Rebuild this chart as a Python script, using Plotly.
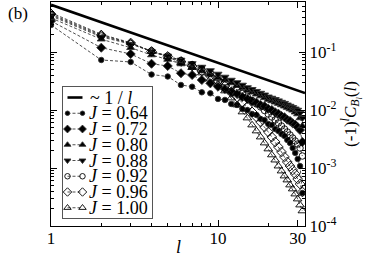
import plotly.graph_objects as go

# ---------------- data ----------------
l_vals = list(range(1, 33))

c_064 = [0.292, 0.0728, 0.0673, 0.0409, 0.0378, 0.0270, 0.0252, 0.0202, 0.0194, 0.0155,
         0.0149, 0.0127, 0.0122, 0.0104, 0.0100, 0.00853, 0.00820, 0.00700, 0.00673, 0.00574,
         0.00551, 0.00470, 0.00435, 0.00385, 0.00356, 0.00304, 0.00270, 0.00221, 0.00182, 0.00143,
         0.00108, 0.000371]
c_072 = [0.342, 0.1186, 0.0925, 0.0627, 0.0574, 0.0430, 0.0401, 0.0329, 0.0288, 0.0252,
         0.0230, 0.0204, 0.0189, 0.0168, 0.0155, 0.0141, 0.0134, 0.0122, 0.0116, 0.0105,
         0.0100, 0.00912, 0.00863, 0.00789, 0.00748, 0.00681, 0.00646, 0.00590, 0.00558, 0.00509,
         0.00452, 0.00281]
c_080 = [0.386, 0.166, 0.1186, 0.0887, 0.0743, 0.0621, 0.0541, 0.0470, 0.0409, 0.0356,
         0.0329, 0.0292, 0.0264, 0.0239, 0.0217, 0.0202, 0.0187, 0.0174, 0.0162, 0.0151,
         0.0143, 0.0136, 0.0129, 0.0122, 0.0116, 0.0110, 0.0104, 0.00989, 0.00916, 0.00853,
         0.00728, 0.00530]
c_088 = [0.418, 0.182, 0.137, 0.102, 0.0853, 0.0728, 0.0634, 0.0551, 0.0480, 0.0418,
         0.0371, 0.0329, 0.0298, 0.0270, 0.0244, 0.0228, 0.0211, 0.0196, 0.0183, 0.0169,
         0.0161, 0.0153, 0.0145, 0.0137, 0.0131, 0.0123, 0.0117, 0.0111, 0.0105, 0.0100,
         0.00887, 0.00728]
c_092 = [0.435, 0.189, 0.140, 0.104, 0.0853, 0.0713, 0.0608, 0.0509, 0.0426, 0.0356,
         0.0304, 0.0259, 0.0221, 0.0192, 0.0168, 0.0146, 0.0127, 0.0113, 0.00980, 0.00853,
         0.00757, 0.00673, 0.00597, 0.00530, 0.00470, 0.00418, 0.00371, 0.00329, 0.00292, 0.00259,
         0.00221, 0.00161]
c_096 = [0.452, 0.196, 0.143, 0.102, 0.0836, 0.0686, 0.0574, 0.0470, 0.0385, 0.0316,
         0.0259, 0.0204, 0.0168, 0.0137, 0.0113, 0.00925, 0.00757, 0.00621, 0.00509, 0.00418,
         0.00342, 0.00281, 0.00230, 0.00189, 0.00155, 0.00127, 0.00108, 0.000925, 0.000789, 0.000646,
         0.000530, 0.000386]
c_100 = [0.476, 0.202, 0.1445, 0.102, 0.0820, 0.0659, 0.0541, 0.0435, 0.0342, 0.0281,
         0.0213, 0.0161, 0.0122, 0.00925, 0.00728, 0.00551, 0.00435, 0.00342, 0.00270, 0.00213,
         0.00168, 0.00137, 0.00108, 0.000887, 0.000728, 0.000621, 0.000509, 0.000435, 0.000356, 0.000292,
         0.000230, 0.000182]

J_labels = ["0.64", "0.72", "0.80", "0.88", "0.92", "0.96", "1.00"]
series = [c_064, c_072, c_080, c_088, c_092, c_096, c_100]

ref_l = [1, 33.2]
ref_c = [0.65, 0.0196]
ref_label = "~ 1 / <i>l</i>"

x_tickvals = [1, 10, 30]
x_ticktext = ["1", "10", "30"]
x_minor = [2, 3, 4, 5, 6, 7, 8, 9, 20]
y_tickvals = [1e-4, 1e-3, 1e-2, 1e-1]
y_ticktext = ["10<sup>-4</sup>", "10<sup>-3</sup>", "10<sup>-2</sup>", "10<sup>-1</sup>"]
y_minor = [m * 10.0 ** e for e in (-4, -3, -2, -1) for m in range(2, 10)]

# ---------------- style ----------------
FONT = "Liberation Serif, Times New Roman, serif"
symbols = ["circle", "diamond", "triangle-up", "triangle-down",
           "circle-open", "diamond-open", "triangle-up-open"]
sizes = [5.5, 7, 7, 7, 6.5, 7.5, 7.5]
dash_style = dict(color="#222", width=0.8, dash="3px,2px")

fig = go.Figure()

fig.add_trace(go.Scatter(
    x=ref_l, y=ref_c, mode="lines",
    line=dict(color="black", width=2.6), name=ref_label, showlegend=False,
))

for lab, vals, sym, sz in zip(J_labels, series, symbols, sizes):
    fig.add_trace(go.Scatter(
        x=l_vals, y=vals, mode="lines+markers",
        line=dash_style,
        marker=dict(symbol=sym, size=sz, color="black",
                    line=dict(color="#333", width=0.9)),
        name="<i>J</i> = " + lab, showlegend=False,
    ))

axis_common = dict(
    showgrid=False, zeroline=False, showline=True, linecolor="black", linewidth=1.2,
    mirror="ticks", ticks="inside", ticklen=6, tickwidth=1, tickcolor="black",
    tickfont=dict(family=FONT, size=17, color="black"),
)

fig.update_layout(
    xaxis=dict(
        type="log", range=[0, 1.521],
        tickmode="array", tickvals=x_tickvals, ticktext=x_ticktext,
        minor=dict(tickmode="array", tickvals=x_minor, ticks="inside", ticklen=3,
                   tickcolor="black", tickwidth=1),
        ticklabelstandoff=-4,
        **axis_common,
    ),
    yaxis=dict(
        type="log", range=[-4, -0.138], side="right",
        tickmode="array", tickvals=y_tickvals, ticktext=y_ticktext,
        minor=dict(tickmode="array", tickvals=y_minor, ticks="inside", ticklen=3,
                   tickcolor="black", tickwidth=1),
        title=dict(text="(-1)<sup><i>l</i></sup><i>C</i><sub><i>B</i><sub><i>l</i></sub></sub>(<i>l</i>)",
                   font=dict(family=FONT, size=17, color="black"), standoff=8),
        **axis_common,
    ),
    # frame for the legend box (an inset of 89 x 131 px, units = px inside the box)
    xaxis2=dict(domain=[0.0472, 0.3976], range=[0, 89], anchor="y2",
                showgrid=False, zeroline=False, showticklabels=False, ticks="",
                showline=True, mirror=True, linecolor="#555", linewidth=1, fixedrange=True),
    yaxis2=dict(domain=[0.0357, 0.6205], range=[131, 0], anchor="x2",
                showgrid=False, zeroline=False, showticklabels=False, ticks="",
                showline=True, mirror=True, linecolor="#555", linewidth=1, fixedrange=True),
)

# ---- legend built inside the inset ----
ROW0, ROWSTEP = 10.5, 15.75
KEY_X = [4.5, 19.5]
TEXT_X = 24

fig.add_trace(go.Scatter(
    x=KEY_X, y=[ROW0, ROW0], xaxis="x2", yaxis="y2", mode="lines",
    line=dict(color="black", width=2.6), showlegend=False, hoverinfo="skip",
))
fig.add_annotation(text=ref_label, xref="x2", yref="y2", x=TEXT_X + 1.5, y=ROW0,
                   xanchor="left", yanchor="middle", showarrow=False,
                   font=dict(family=FONT, size=18, color="black"))

for i, (lab, sym, sz) in enumerate(zip(J_labels, symbols, sizes)):
    ry = ROW0 + ROWSTEP * (i + 1)
    fig.add_trace(go.Scatter(
        x=KEY_X, y=[ry, ry], xaxis="x2", yaxis="y2", mode="lines+markers",
        line=dash_style,
        marker=dict(symbol=sym, size=sz - 1, color="black",
                    line=dict(color="#333", width=0.9)),
        showlegend=False, hoverinfo="skip",
    ))
    fig.add_annotation(text="<i>J</i> = " + lab, xref="x2", yref="y2", x=TEXT_X, y=ry,
                       xanchor="left", yanchor="middle", showarrow=False,
                       font=dict(family=FONT, size=18, color="black"))

# x-axis title and panel label
fig.add_annotation(
    text="<i>l</i>", xref="paper", yref="paper", x=0.5, y=-0.095,
    xanchor="center", yanchor="middle", showarrow=False,
    font=dict(family=FONT, size=18, color="black"),
)
fig.add_annotation(
    text="(b)", xref="paper", yref="paper", x=-0.178, y=1.0,
    xanchor="left", yanchor="top", showarrow=False,
    font=dict(family=FONT, size=17, color="black"),
)

fig.update_layout(
    width=374, height=259,
    margin=dict(l=51, r=69, t=2, b=33, autoexpand=False),
    paper_bgcolor="white", plot_bgcolor="white",
    font=dict(family=FONT, color="black"),
    showlegend=False,
)

fig.write_html("out.html", config={"displayModeBar": False},
               post_script="document.body.style.margin='0';document.body.style.overflow='hidden';")
